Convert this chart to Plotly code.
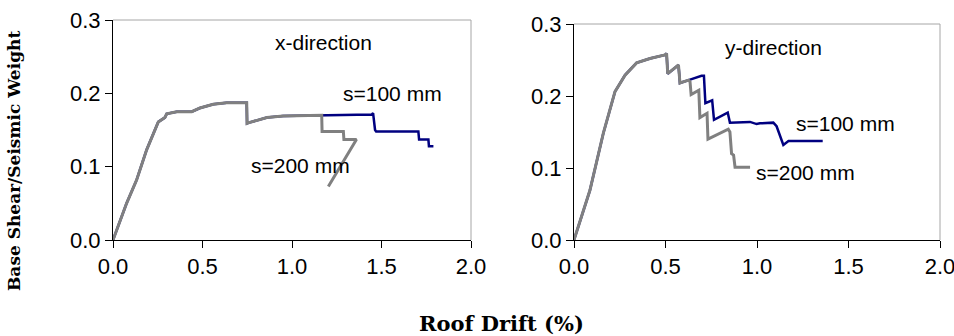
import plotly.graph_objects as go

# ---- data ----
x_left_s100 = [0, 0.076, 0.132, 0.188, 0.253, 0.29, 0.30, 0.356, 0.44, 0.486, 0.56, 0.635, 0.747, 0.749,
               0.76, 0.86, 0.95, 1.156, 1.30, 1.445, 1.453, 1.464, 1.47, 1.706, 1.71, 1.762, 1.765, 1.79]
y_left_s100 = [0, 0.050, 0.082, 0.123, 0.161, 0.167, 0.172, 0.175, 0.175, 0.180, 0.185, 0.187, 0.187, 0.159,
               0.160, 0.167, 0.169, 0.170, 0.171, 0.171, 0.173, 0.150, 0.148, 0.148, 0.137, 0.137, 0.128, 0.128]

x_left_s200 = [0, 0.076, 0.132, 0.188, 0.253, 0.29, 0.30, 0.356, 0.44, 0.486, 0.56, 0.635, 0.747, 0.749,
               0.76, 0.86, 0.95, 1.156, 1.166, 1.168, 1.287, 1.29, 1.36, 1.203]
y_left_s200 = [0, 0.050, 0.082, 0.123, 0.161, 0.167, 0.172, 0.175, 0.175, 0.180, 0.185, 0.187, 0.187, 0.159,
               0.160, 0.167, 0.169, 0.170, 0.170, 0.148, 0.148, 0.137, 0.137, 0.073]

x_right_s100 = [0, 0.087, 0.160, 0.224, 0.279, 0.342, 0.415, 0.497, 0.506, 0.512, 0.571, 0.579, 0.626, 0.697,
                0.710, 0.718, 0.755, 0.765, 0.840, 0.852, 0.962, 0.998, 1.016, 1.089, 1.107, 1.144, 1.172, 1.359]
y_right_s100 = [0, 0.069, 0.148, 0.206, 0.229, 0.246, 0.252, 0.257, 0.259, 0.231, 0.243, 0.218, 0.222, 0.228,
                0.228, 0.190, 0.194, 0.167, 0.177, 0.163, 0.164, 0.161, 0.162, 0.163, 0.158, 0.132, 0.1375, 0.1375]

x_right_s200 = [0, 0.087, 0.160, 0.224, 0.279, 0.342, 0.415, 0.497, 0.506, 0.512, 0.571, 0.579, 0.626, 0.634,
                0.640, 0.682, 0.688, 0.727, 0.732, 0.843, 0.852, 0.861, 0.872, 0.880, 0.962]
y_right_s200 = [0, 0.069, 0.148, 0.206, 0.229, 0.246, 0.252, 0.257, 0.259, 0.231, 0.243, 0.218, 0.222, 0.220,
                0.202, 0.208, 0.170, 0.176, 0.140, 0.154, 0.150, 0.120, 0.118, 0.101, 0.101]

x_ticks = [0.0, 0.5, 1.0, 1.5, 2.0]
y_ticks = [0.0, 0.1, 0.2, 0.3]

BLUE = "#000080"
GRAY = "#808080"
W, H = 954, 336

# plot-area box in pixels (union of both panels)
ML, MR, MT, MB = 113, 14, 20, 96
PW, PH = W - ML - MR, H - MT - MB

def fx(p):
    return (p - ML) / PW

def fy(p):
    return 1 - (p - MT) / PH

fig = go.Figure()
fig.add_trace(go.Scatter(x=x_left_s100, y=y_left_s100, mode="lines", line=dict(color=BLUE, width=2.5),
                         xaxis="x", yaxis="y", showlegend=False))
fig.add_trace(go.Scatter(x=x_left_s200, y=y_left_s200, mode="lines", line=dict(color=GRAY, width=3),
                         xaxis="x", yaxis="y", showlegend=False))
fig.add_trace(go.Scatter(x=x_right_s100, y=y_right_s100, mode="lines", line=dict(color=BLUE, width=2.5),
                         xaxis="x2", yaxis="y2", showlegend=False))
fig.add_trace(go.Scatter(x=x_right_s200, y=y_right_s200, mode="lines", line=dict(color=GRAY, width=3),
                         xaxis="x2", yaxis="y2", showlegend=False))

tickfont = dict(family="Liberation Sans, Arial", size=22, color="black")

L1, R1, T1 = 113, 471, 20
L2, R2, T2 = 574, 940, 24
B = 240

axis_common = dict(showgrid=False, zeroline=False, showline=True, linecolor="black", linewidth=1,
                   ticks="outside", ticklen=7, tickcolor="black", tickfont=tickfont, tickformat=".1f",
                   automargin=False, ticklabeloverflow="allow")

fig.update_layout(
    width=W, height=H, margin=dict(l=ML, r=MR, t=MT, b=MB, autoexpand=False),
    paper_bgcolor="white", plot_bgcolor="white",
    xaxis=dict(domain=[fx(L1), fx(R1)], range=[0, 2.0], tickvals=x_ticks, anchor="y", **axis_common),
    yaxis=dict(domain=[fy(B), fy(T1)], range=[0, 0.3], tickvals=y_ticks, anchor="x", **axis_common),
    xaxis2=dict(domain=[fx(L2), fx(R2)], range=[0, 2.0], tickvals=x_ticks, anchor="y2", **axis_common),
    yaxis2=dict(domain=[fy(B), fy(T2)], range=[0, 0.3], tickvals=y_ticks, anchor="x2", **axis_common),
)

# gray frame on top/right
for (l, r, t) in [(L1, R1, T1), (L2, R2, T2)]:
    fig.add_shape(type="line", xref="paper", yref="paper", x0=fx(l), x1=fx(r), y0=fy(t), y1=fy(t),
                  line=dict(color="#a6a6a6", width=1))
    fig.add_shape(type="line", xref="paper", yref="paper", x0=fx(r), x1=fx(r), y0=fy(t), y1=fy(B),
                  line=dict(color="#a6a6a6", width=1))

afont = dict(family="Liberation Sans, Arial", size=21, color="black")
labels = [
    ("x-direction", 323, 43),
    ("s=100 mm", 392, 93),
    ("s=200 mm", 300, 165),
    ("y-direction", 773, 48),
    ("s=100 mm", 845, 124),
    ("s=200 mm", 805, 172),
]
for txt, cx, cy in labels:
    fig.add_annotation(text=txt, x=fx(cx), y=fy(cy), xref="paper", yref="paper", showarrow=False,
                       font=afont, xanchor="center", yanchor="middle")

fig.add_annotation(text="<b>Base Shear/Seismic Weight</b>", x=fx(14), y=fy(161), xref="paper", yref="paper",
                   showarrow=False, textangle=-90, font=dict(family="DejaVu Serif", size=17, color="black"),
                   xanchor="center", yanchor="middle")
fig.add_annotation(text="<b>Roof Drift (%)</b>", x=fx(501), y=fy(323), xref="paper", yref="paper",
                   showarrow=False, font=dict(family="DejaVu Serif", size=21, color="black"),
                   xanchor="center", yanchor="middle")

fig.write_html("out.html", config={"displayModeBar": False},
               post_script="document.body.style.margin='0';document.body.style.overflow='hidden';")
